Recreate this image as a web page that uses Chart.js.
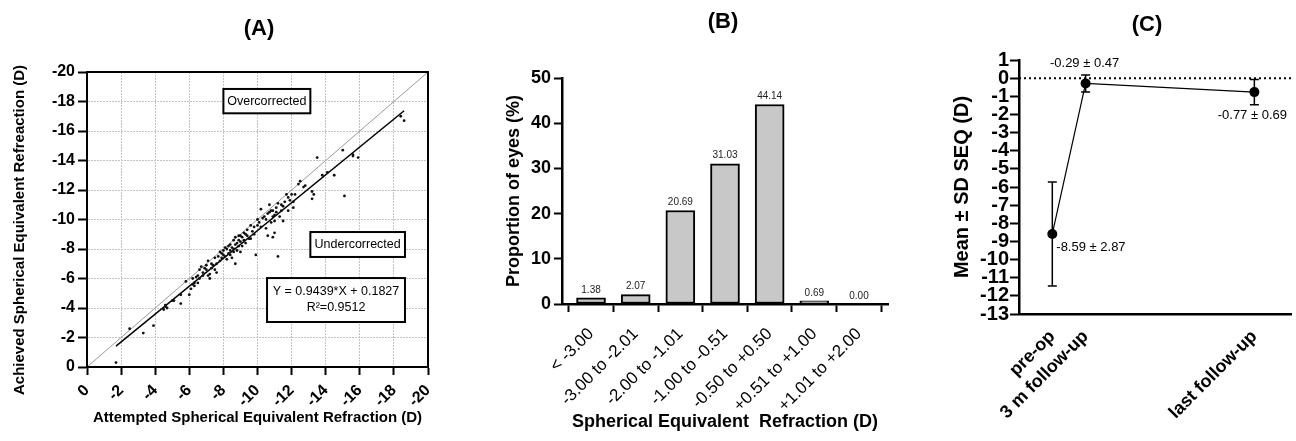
<!DOCTYPE html>
<html>
<head>
<meta charset="utf-8">
<script src="https://cdn.jsdelivr.net/npm/chart.js@4.4.1/dist/chart.umd.min.js"></script>
<style>
  html, body { margin: 0; padding: 0; background: #fff; }
  body { width: 1296px; height: 441px; position: relative; overflow: hidden; }
  canvas { position: absolute; top: 0; }
</style>
</head>
<body>
<canvas id="chartA" width="440" height="441" style="left:0px"></canvas>
<canvas id="chartB" width="450" height="441" style="left:450px"></canvas>
<canvas id="chartC" width="396" height="441" style="left:900px"></canvas>
<script>
// ---- (A) attempted vs achieved SE ----
const attemptedSE = [-1.7,-2.5,-3.3,-3.9,-4.5,-4.6,-4.7,-4.6,-5.0,-5.1,-5.5,-5.5,
  -5.8,-6.0,-6.1,-6.2,-6.3,-6.3,-6.5,-6.5,-6.6,-6.6,-6.7,-6.8,-6.8,-6.9,-7.0,-7.0,-7.1,-7.1,-7.2,-7.2,
  -7.3,-7.4,-7.5,-7.5,-7.6,-7.7,-7.8,-7.9,-7.9,-8.0,-8.0,-8.1,-8.2,-8.2,-8.3,-8.3,-8.4,-8.4,-8.5,-8.5,-8.6,-8.6,-8.7,-8.7,-8.7,-8.8,-8.8,-8.9,-8.9,-9.0,-9.0,-9.0,
  -9.1,-9.2,-9.2,-9.3,-9.4,-9.5,-9.6,-9.6,-9.7,-9.8,-9.9,-10.0,-10.0,-10.1,-10.2,-10.3,-10.4,-10.5,-10.6,-10.6,-10.7,-10.7,-10.8,-10.8,-10.9,-10.9,-11.0,-11.0,-11.1,-11.2,-11.2,-11.3,
  -11.4,-11.4,-11.5,-11.5,-11.6,-11.7,-11.8,-11.9,-12.0,-12.1,-12.1,-12.4,-12.5,-12.7,
  -13.2,-13.2,-13.3,-13.5,-13.8,-14.1,-14.5,-15.0,-15.1,-15.6,-15.6,-15.9,-18.4,-18.6,
  -6.4,-7.3,-7.8,-8.1,-8.6,-8.9,-9.1,-9.3,-9.8,-10.2,-10.5,-11.1,-11.8,-12.2,-7.6,-6.2,-9.4,-10.9,-8.4,-11.0,-12.8];
const achievedSE = [-0.3,-2.6,-2.3,-2.8,-3.9,-4.2,-4.0,-4.1,-4.5,-4.5,-4.3,-4.9,
  -5.8,-4.9,-5.3,-5.6,-5.7,-5.5,-6.2,-5.7,-6.0,-6.6,-6.8,-6.4,-6.2,-6.7,-6.6,-6.9,-6.2,-7.2,-6.0,-6.3,
  -7.0,-6.9,-6.6,-7.4,-6.4,-7.5,-7.2,-7.7,-7.4,-7.9,-7.6,-7.5,-8.0,-7.3,-7.7,-8.2,-7.6,-7.9,-7.4,-8.1,-7.8,-8.6,-8.3,-8.8,-7.0,-8.4,-7.9,-8.6,-8.2,-8.9,-7.8,-8.5,
  -8.2,-9.1,-8.6,-8.4,-8.9,-8.7,-9.6,-8.7,-9.2,-9.0,-7.6,-9.6,-10.0,-9.8,-10.7,-10.1,-10.2,-9.4,-10.4,-8.9,-11.0,-10.5,-9.8,-10.6,-10.2,-8.8,-9.1,-9.9,-10.5,-7.5,-11.1,-10.2,
  -11.0,-10.6,-10.9,-9.9,-11.2,-11.7,-10.6,-11.3,-11.7,-10.8,-11.2,-12.4,-12.6,-12.2,
  -11.4,-11.9,-11.7,-14.2,-13.0,-13.2,-13.0,-14.7,-11.6,-14.4,-14.3,-14.2,-17.0,-16.7,
  -6.1,-6.7,-7.8,-8.1,-8.0,-8.9,-8.8,-9.0,-9.5,-9.5,-10.0,-10.8,-11.5,-11.7,-7.0,-6.0,-9.3,-10.6,-8.3,-10.3,-12.3];
const identityX = [0, -20];
const identityY = [0, -20];
const fitX = [-1.7, -18.6];
const fitY = [-1.42, -17.37];

// ---- (B) distribution of postop SE ----
const binLabels = ['< -3.00', '-3.00 to -2.01', '-2.00 to -1.01', '-1.00 to -0.51', '-0.50 to +0.50', '+0.51 to +1.00', '+1.01 to +2.00'];
const proportionEyes = [1.38, 2.07, 20.69, 31.03, 44.14, 0.69, 0.00];

// ---- (C) SEQ over time ----
const visitLabels = ['pre-op', '3 m follow-up', 'last follow-up'];
const visitMonth = [0, 3, 18.2];
const meanSEQ = [-8.59, -0.29, -0.77];
const sdSEQ = [2.87, 0.47, 0.69];

const FONT = "'Liberation Sans', Arial, Helvetica, sans-serif";
Chart.defaults.font.family = FONT;
Chart.defaults.color = '#000';

const toXY = (xs, ys) => xs.map((x, i) => ({ x: x, y: ys[i] }));

// panel letter drawn at fixed spot
function panelTitle(text, x, y) {
  return {
    id: 'panelTitle',
    afterDraw(chart) {
      const ctx = chart.ctx;
      ctx.save();
      ctx.font = 'bold 22px ' + FONT;
      ctx.fillStyle = '#000';
      ctx.textAlign = 'center';
      ctx.textBaseline = 'middle';
      ctx.fillText(text, x, y);
      ctx.restore();
    }
  };
}

// ---------- A ----------
const boxesA = {
  id: 'boxesA',
  afterDraw(chart) {
    const { ctx, chartArea, scales: { x, y } } = chart;
    ctx.save();
    ctx.lineWidth = 2;
    ctx.strokeStyle = '#000';
    ctx.strokeRect(chartArea.left, chartArea.top, chartArea.right - chartArea.left, chartArea.bottom - chartArea.top);

    // y axis title, sits a bit below the middle like the original
    ctx.save();
    ctx.translate(20, 230);
    ctx.rotate(-Math.PI / 2);
    ctx.font = 'bold 15px ' + FONT;
    ctx.fillStyle = '#000';
    ctx.textAlign = 'center';
    ctx.textBaseline = 'middle';
    ctx.fillText('Achieved Spherical Equivalent Refreaction (D)', 0, 0);
    ctx.restore();

    const box = (x1, y1, x2, y2, lines) => {
      const px1 = x.getPixelForValue(x1), px2 = x.getPixelForValue(x2);
      const py1 = y.getPixelForValue(y1), py2 = y.getPixelForValue(y2);
      ctx.fillStyle = '#fff';
      ctx.fillRect(px1, py1, px2 - px1, py2 - py1);
      ctx.lineWidth = 2;
      ctx.strokeRect(px1, py1, px2 - px1, py2 - py1);
      ctx.fillStyle = '#000';
      ctx.font = '12.5px ' + FONT;
      ctx.textAlign = 'center';
      ctx.textBaseline = 'middle';
      const cx = (px1 + px2) / 2, cy = (py1 + py2) / 2;
      const lh = 16;
      lines.forEach((t, i) => ctx.fillText(t, cx, cy + (i - (lines.length - 1) / 2) * lh));
    };
    box(-8.0, -18.85, -13.1, -17.2, ['Overcorrected']);
    box(-13.1, -9.15, -18.65, -7.46, ['Undercorrected']);
    box(-10.56, -6.03, -18.65, -3.05, ['Y = 0.9439*X + 0.1827', 'R\u00B2=0.9512']);
    ctx.restore();
  }
};

new Chart(document.getElementById('chartA'), {
  type: 'scatter',
  data: {
    datasets: [
      { data: toXY(attemptedSE, achievedSE), pointRadius: 1.4, pointBackgroundColor: '#111', pointBorderWidth: 0, order: 0 },
      { type: 'line', data: toXY(fitX, fitY), borderColor: '#000', borderWidth: 1.5, pointRadius: 0, order: 1 },
      { type: 'line', data: toXY(identityX, identityY), borderColor: '#9a9a9a', borderWidth: 1, pointRadius: 0, order: 2 }
    ]
  },
  options: {
    responsive: false, animation: false, devicePixelRatio: 1,
    layout: { padding: { top: 72, right: 12 } },
    plugins: { legend: { display: false }, tooltip: { enabled: false } },
    scales: {
      x: {
        type: 'linear', min: -20, max: 0, reverse: true,
        ticks: { stepSize: 2, minRotation: 45, maxRotation: 45, autoSkip: false, font: { size: 16, weight: 'bold' }, padding: 6 },
        grid: { color: '#c4c4c4', lineWidth: 1, tickColor: '#000', tickWidth: 2, tickLength: 8 },
        border: { color: '#000', width: 2, dash: [2, 1] },
        title: { display: true, text: 'Attempted Spherical Equivalent Refraction (D)', font: { size: 15, weight: 'bold' }, padding: { top: 0, bottom: 14 } },
        afterFit(s) { s.height = 74; s.paddingLeft = 0; s.paddingRight = 0; }
      },
      y: {
        type: 'linear', min: -20, max: 0, reverse: true,
        ticks: { stepSize: 2, autoSkip: false, font: { size: 16, weight: 'bold' }, padding: 3 },
        grid: { color: '#c4c4c4', lineWidth: 1, tickColor: '#000', tickWidth: 2, tickLength: 9 },
        border: { color: '#000', width: 2, dash: [2, 1] },
        afterFit(s) { s.width = 87; }
      }
    }
  },
  plugins: [boxesA, panelTitle('(A)', 259, 29)]
});

// ---------- B ----------
const barValueLabels = {
  id: 'barValueLabels',
  afterDatasetsDraw(chart) {
    const ctx = chart.ctx;
    const meta = chart.getDatasetMeta(0);
    ctx.save();
    ctx.font = '10px ' + FONT;
    ctx.fillStyle = '#222';
    ctx.textAlign = 'center';
    ctx.textBaseline = 'bottom';
    meta.data.forEach((bar, i) => {
      ctx.fillText(proportionEyes[i].toFixed(2), bar.x, bar.y - 3);
    });
    ctx.restore();
  }
};

new Chart(document.getElementById('chartB'), {
  type: 'bar',
  data: {
    datasets: [{
      data: toXY(binLabels.map((_, i) => i), proportionEyes),
      backgroundColor: '#c8c8c8', borderColor: '#000', borderWidth: 2, borderSkipped: false,
      barThickness: 29
    }]
  },
  options: {
    responsive: false, animation: false, devicePixelRatio: 1,
    layout: { padding: { top: 78, right: 12 } },
    plugins: { legend: { display: false }, tooltip: { enabled: false } },
    scales: {
      x: {
        type: 'linear', min: -0.65, max: 6.65, offset: false,
        afterBuildTicks(s) { s.ticks = binLabels.map((_, i) => ({ value: i })); },
        ticks: { callback: (v) => binLabels[v], minRotation: 45, maxRotation: 45, autoSkip: false, font: { size: 17 }, padding: 12 },
        grid: { drawOnChartArea: false, tickColor: '#000', tickWidth: 2, tickLength: 8 },
        border: { color: '#000', width: 2.5 },
        title: { display: true, text: 'Spherical Equivalent  Refraction (D)', font: { size: 18, weight: 'bold' }, padding: { top: 0, bottom: 8 } },
        afterFit(s) { s.height = 137; s.paddingLeft = 0; s.paddingRight = 0; }
      },
      y: {
        min: 0, max: 50,
        ticks: { stepSize: 10, font: { size: 18, weight: 'bold' }, padding: 3 },
        grid: { drawOnChartArea: false, tickColor: '#000', tickWidth: 2, tickLength: 8 },
        border: { color: '#000', width: 2.5 },
        title: { display: true, text: 'Proportion of eyes (%)', font: { size: 18, weight: 'bold' }, padding: { top: 53, bottom: 0 } },
        afterFit(s) { s.width = 112; }
      }
    }
  },
  plugins: [barValueLabels, panelTitle('(B)', 273, 22)]
});

// ---------- C ----------
const errorBarsC = {
  id: 'errorBarsC',
  beforeDatasetsDraw(chart) {
    const { ctx, scales: { x, y } } = chart;
    ctx.save();
    ctx.strokeStyle = '#000';
    ctx.lineWidth = 1.5;
    visitMonth.forEach((m, i) => {
      const px = x.getPixelForValue(m);
      const pTop = y.getPixelForValue(meanSEQ[i] + sdSEQ[i]);
      const pBot = y.getPixelForValue(meanSEQ[i] - sdSEQ[i]);
      ctx.beginPath();
      ctx.moveTo(px, pTop); ctx.lineTo(px, pBot);
      ctx.moveTo(px - 4.5, pTop); ctx.lineTo(px + 4.5, pTop);
      ctx.moveTo(px - 4.5, pBot); ctx.lineTo(px + 4.5, pBot);
      ctx.stroke();
    });
    ctx.restore();
  },
  afterDatasetsDraw(chart) {
    const { ctx, scales: { x, y } } = chart;
    ctx.save();
    ctx.font = '13px ' + FONT;
    ctx.fillStyle = '#000';
    ctx.textBaseline = 'middle';
    const txt = (i) => meanSEQ[i].toFixed(2) + ' \u00B1 ' + sdSEQ[i].toFixed(2);
    const p = (i) => [x.getPixelForValue(visitMonth[i]), y.getPixelForValue(meanSEQ[i])];
    let [px, py] = p(0);
    ctx.textAlign = 'left';
    ctx.fillText(txt(0), px + 4, py + 13);
    [px, py] = p(1);
    ctx.textAlign = 'center';
    ctx.fillText(txt(1), px - 1, py - 20);
    [px, py] = p(2);
    ctx.fillText(txt(2), px - 2, py + 23);
    ctx.restore();
  }
};

new Chart(document.getElementById('chartC'), {
  type: 'line',
  data: {
    datasets: [
      {
        data: toXY(visitMonth, meanSEQ),
        borderColor: '#000', borderWidth: 1.2,
        pointRadius: 5, pointBackgroundColor: '#000', pointBorderWidth: 0, order: 0
      },
      {
        data: [{ x: -3, y: 0 }, { x: 21.5, y: 0 }],
        borderColor: '#000', borderWidth: 2, borderDash: [2, 3], pointRadius: 0, order: 1
      }
    ]
  },
  options: {
    responsive: false, animation: false, devicePixelRatio: 1,
    layout: { padding: { top: 60, right: 0 } },
    plugins: { legend: { display: false }, tooltip: { enabled: false } },
    scales: {
      x: {
        type: 'linear', min: -3, max: 21.5,
        afterBuildTicks(s) { s.ticks = visitMonth.map((m) => ({ value: m })); },
        ticks: { callback: (v, i) => visitLabels[i], minRotation: 45, maxRotation: 45, autoSkip: false, font: { size: 18, weight: 'bold' }, padding: 4 },
        grid: { display: false },
        border: { color: '#000', width: 2.5 },
        afterFit(s) { s.height = 127; s.paddingLeft = 0; s.paddingRight = 0; }
      },
      y: {
        min: -13, max: 1,
        ticks: { stepSize: 1, autoSkip: false, font: { size: 20, weight: 'bold' }, padding: 1 },
        grid: { drawOnChartArea: false, tickColor: '#000', tickWidth: 2, tickLength: 9 },
        border: { color: '#000', width: 2.5 },
        title: { display: true, text: 'Mean \u00B1 SD SEQ (D)', font: { size: 20, weight: 'bold' }, padding: { top: 50, bottom: 0 } },
        afterFit(s) { s.width = 119; }
      }
    }
  },
  plugins: [errorBarsC, panelTitle('(C)', 247, 25)]
});
</script>
</body>
</html>
